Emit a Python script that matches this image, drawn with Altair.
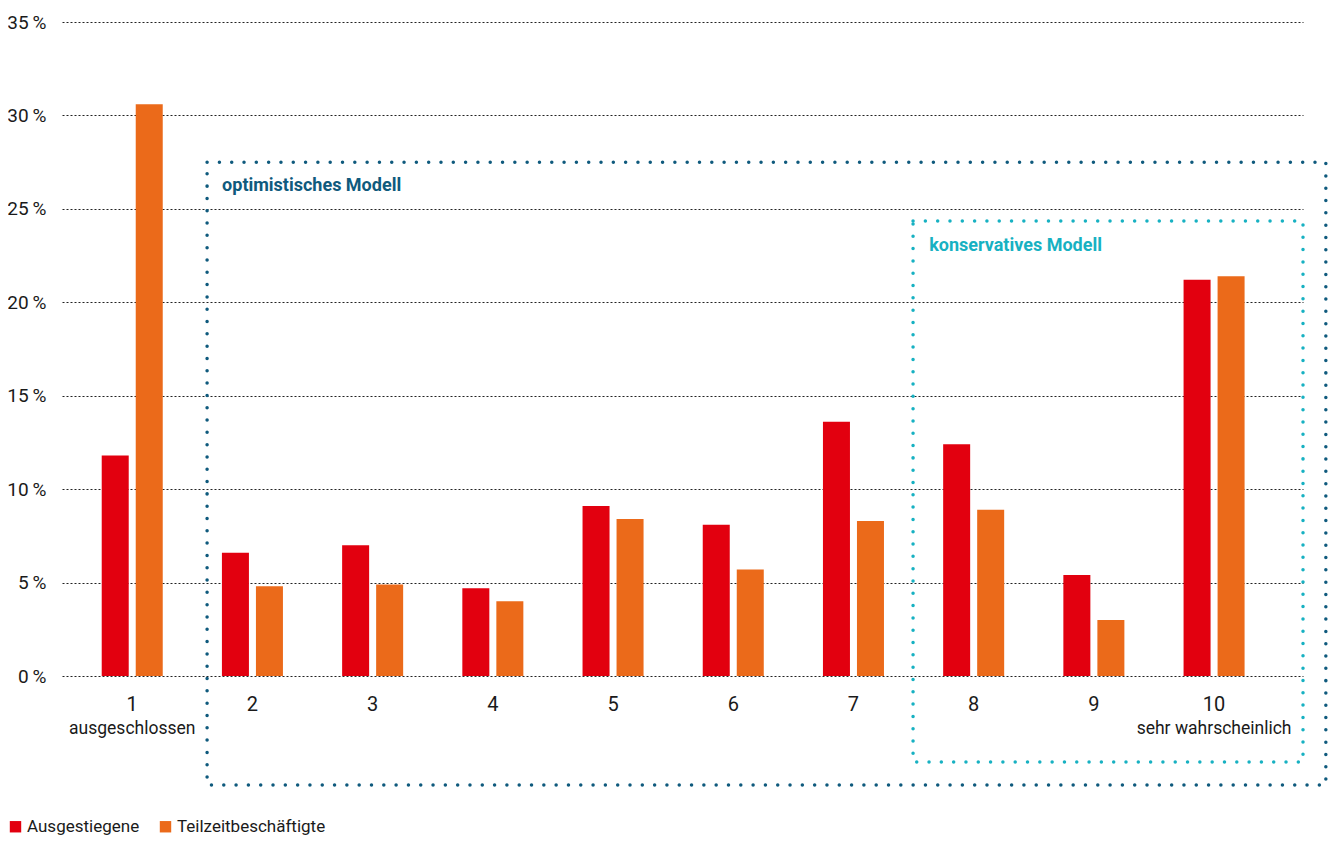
import altair as alt
import pandas as pd

cats = [str(i) for i in range(1, 11)]
ausgestiegene = [11.8, 6.6, 7.0, 4.7, 9.1, 8.1, 13.6, 12.4, 5.4, 21.2]
teilzeit = [30.6, 4.8, 4.9, 4.0, 8.4, 5.7, 8.3, 8.9, 3.0, 21.4]
series = ["Ausgestiegene", "Teilzeitbeschäftigte"]
colors = ["#e2000f", "#eb6a1a"]
y_ticks = [0, 5, 10, 15, 20, 25, 30, 35]

sub_cats = ["1", "10"]
sub_texts = ["ausgeschlossen", "sehr wahrscheinlich"]
sub_y = [-2.85, -2.85]

# annotation boxes (x in category units, y in percent)
box_names = ["optimistisches Modell", "konservatives Modell"]
box_x1 = [1.623, 7.496]
box_x2 = [10.93, 10.74]
box_y1 = [27.5, 24.35]
box_y2 = [-5.83, -4.6]
box_colors = ["#0f5a7d", "#17b1c2"]
box_text_x = [1.748, 7.63]
box_text_y = [26.2, 23.0]

FONT = "Roboto"

rows = []
for c, a, t in zip(cats, ausgestiegene, teilzeit):
    rows.append({"cat": c, "series": series[0], "value": a})
    rows.append({"cat": c, "series": series[1], "value": t})
bars_df = pd.DataFrame(rows)
sub_df = pd.DataFrame({"cat": sub_cats, "text": sub_texts, "y": sub_y})
box_df = pd.DataFrame({"name": box_names, "x1": box_x1, "x2": box_x2,
                       "y1": box_y1, "y2": box_y2, "color": box_colors,
                       "tx": box_text_x, "ty": box_text_y})

xscale = alt.Scale(domain=cats, paddingInner=0, paddingOuter=0.162, align=0.26)
yscale = alt.Scale(domain=[0, 35], nice=False)

bars = alt.Chart(bars_df).mark_bar().encode(
    x=alt.X("cat:O", sort=cats, scale=xscale,
            axis=alt.Axis(title=None, labelAngle=0, domain=False, ticks=False,
                          labelFontSize=20, labelFont=FONT, labelColor="#1a1a1a",
                          labelBaseline="middle", labelPadding=28, grid=False)),
    xOffset=alt.XOffset("series:N", sort=series,
                        scale=alt.Scale(paddingInner=0.206, paddingOuter=0.87)),
    y=alt.Y("value:Q", scale=yscale,
            axis=alt.Axis(title=None, values=y_ticks, domain=False, ticks=False,
                          labelExpr="datum.value + '\u2009%'",
                          labelFontSize=19, labelFont=FONT, labelColor="#1a1a1a",
                          labelPadding=16, grid=True, gridDash=[2, 2],
                          gridColor="#222", gridWidth=1)),
    color=alt.Color("series:N", sort=series,
                    scale=alt.Scale(domain=series, range=colors),
                    legend=alt.Legend(title=None, orient="none", legendX=-55,
                                      legendY=796, direction="horizontal",
                                      symbolType="square", symbolSize=130,
                                      symbolStrokeWidth=0, labelFontSize=17,
                                      labelFont=FONT, labelColor="#1a1a1a",
                                      labelOffset=3, columnPadding=17)),
)

sub = alt.Chart(sub_df).mark_text(fontSize=17.5, font=FONT, color="#1a1a1a",
                                  baseline="middle").encode(
    x=alt.X("cat:O", sort=cats, scale=xscale),
    y=alt.Y("y:Q", scale=yscale),
    text="text:N",
)

left = alt.layer(bars, sub)

bx = alt.Scale(domain=[0.416, 10.74], nice=False, zero=False)
boxes = alt.Chart(box_df).mark_rect(fill=None, strokeWidth=3.5, strokeCap="round",
                                    strokeDash=[0.01, 12.3], clip=False).encode(
    x=alt.X("x1:Q", scale=bx, axis=None),
    x2="x2:Q",
    y=alt.Y("y1:Q", scale=yscale),
    y2="y2:Q",
    stroke=alt.Stroke("color:N", scale=None),
)
box_text = alt.Chart(box_df).mark_text(fontSize=18, font=FONT, fontWeight="bold",
                                       align="left", baseline="middle").encode(
    x=alt.X("tx:Q", scale=bx, axis=None),
    y=alt.Y("ty:Q", scale=yscale),
    text="name:N",
    color=alt.Color("color:N", scale=None),
)
right = alt.layer(boxes, box_text)

chart = alt.layer(left, right).resolve_scale(x="independent").properties(
    width=1241, height=654,
    autosize=alt.AutoSizeParams(type="none"),
    padding={"left": 54, "top": 14, "right": 26, "bottom": 159},
).configure(background="white").configure_view(stroke=None)

chart.save("out.html", embed_options={"renderer": "svg", "actions": False})
